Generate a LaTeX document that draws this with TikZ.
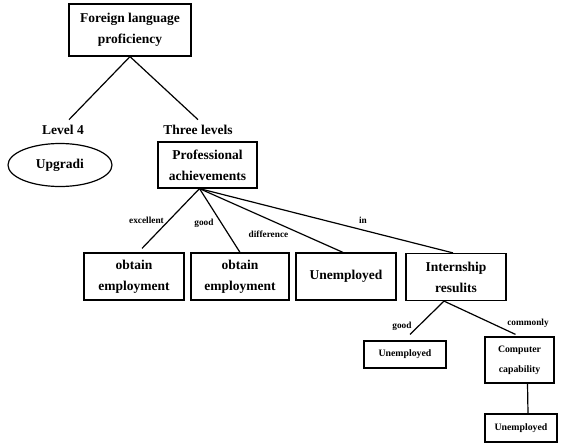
\documentclass[tikz,border=0pt]{standalone}
\usepackage{fontspec}
\setmainfont{Liberation Serif}
\usetikzlibrary{shapes.geometric}

\begin{document}
\begin{tikzpicture}[x=1pt, y=-1pt, line width=1.2pt,
    box/.style={rectangle, draw, align=center, inner sep=0pt, font=\fontsize{13.5}{21}\selectfont\bfseries},
    smallbox/.style={box, font=\fontsize{9.8}{20}\selectfont\bfseries},
    word/.style={inner sep=0pt, font=\fontsize{13.5}{15}\selectfont\bfseries},
    edgelabel/.style={inner sep=0pt, font=\fontsize{9.3}{10}\selectfont\bfseries}]

    \useasboundingbox (0,0) rectangle (565,445);

    % Nodes
    \node[box, minimum width=122pt, minimum height=52pt] (flp) at (130,30) {Foreign language\\proficiency};

    \node[word] (lev4) at (63,130) {Level 4};
    \node[word] (three) at (198,130) {Three levels};

    \node[ellipse, draw, minimum width=104pt, minimum height=43pt, inner sep=0pt,
          font=\fontsize{13.5}{15}\selectfont\bfseries] (upg) at (60,165) {Upgradi};
    \node[box, minimum width=99pt, minimum height=46pt] (prof) at (207.5,165) {Professional\\achievements};

    \node[box, minimum width=100pt, minimum height=47pt] (obt1) at (134,276.5) {obtain\\employment};
    \node[box, minimum width=98pt, minimum height=47pt] (obt2) at (240,276.5) {obtain\\employment};
    \node[box, minimum width=100pt, minimum height=47pt] (unemp1) at (346,276.5) {Unemployed};
    \node[box, minimum width=100pt, minimum height=47pt] (intern) at (456,277) {Internship\\resulits};

    \node[smallbox, minimum width=82pt, minimum height=27pt] (unemp2) at (405,354.5) {Unemployed};
    \node[smallbox, minimum width=69pt, minimum height=46pt] (comp) at (519.5,360) {Computer\\capability};
    \node[smallbox, minimum width=72pt, minimum height=28pt] (unemp3) at (521,428) {Unemployed};

    % Edge labels
    \node[edgelabel] (lexc) at (146.5,220) {excellent};
    \node[edgelabel] (lgood) at (204,223) {good};
    \node[edgelabel] (ldiff) at (268.5,234.5) {difference};
    \node[edgelabel] (lin) at (363,220) {in};
    \node[edgelabel] (lgood2) at (402,326) {good};
    \node[edgelabel] (lcomm) at (528,323) {commonly};

    % Edges
    \draw (flp.south) -- ([xshift=6pt, yshift=5pt]lev4.north);
    \draw (flp.south) -- ([yshift=5pt]three.north);
    \draw ([xshift=-8pt]prof.south) -- ([xshift=8pt, yshift=4pt]obt1.north);
    \draw ([xshift=-8pt]prof.south) -- (obt2.north);
    \draw ([xshift=-8pt]prof.south) -- ([xshift=-3pt]unemp1.north);
    \draw ([xshift=-8pt]prof.south) -- ([xshift=-3pt]intern.north);
    \draw ([xshift=-12pt]intern.south) -- ([xshift=5pt, yshift=6pt]unemp2.north);
    \draw ([xshift=-12pt]intern.south) -- ([xshift=-4pt, yshift=2pt]comp.north);
    \draw ([xshift=8pt]comp.south) -- ([xshift=7pt]unemp3.north);

\end{tikzpicture}
\end{document}
